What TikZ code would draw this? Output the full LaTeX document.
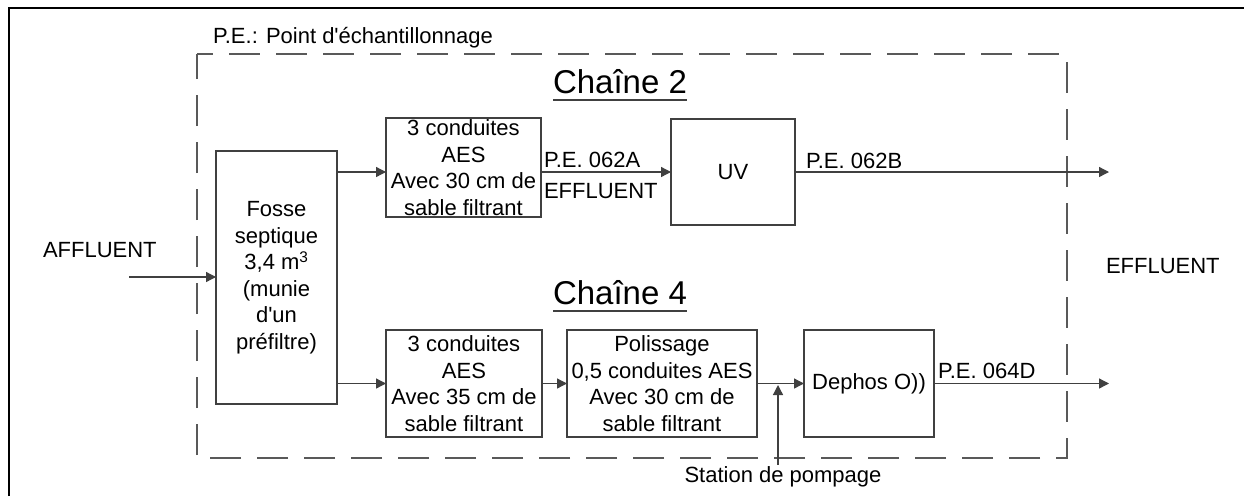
\documentclass[tikz,border=0pt]{standalone}
\usepackage{fontspec}
\setmainfont{Liberation Sans}
\usetikzlibrary{arrows.meta}
\begin{document}
\begin{tikzpicture}[x=1pt,y=-1pt,
  txt/.style={font=\fontsize{22}{26.5}\selectfont, inner sep=0pt, outer sep=0pt},
  box/.style={txt, draw=black!75, line width=1.3pt, align=center},
  title/.style={font=\fontsize{33}{36}\selectfont, inner sep=0pt, outer sep=0pt},
  arr/.style={draw=black!75, line width=1.3pt, -{Triangle[length=10pt,width=10pt]}},
  ln/.style={draw=black!75, line width=1.3pt}]
\useasboundingbox (0,0) rectangle (1244,496);
\fill[white] (0,0) rectangle (1244,496);
% outer frame
\draw[black, line width=1.5pt] (9,496) -- (9,8) -- (1244,8);
% dashed zone
\draw[black!65, line width=1.5pt, dash pattern=on 31pt off 16pt, dash phase=15pt]
  (197,54) -- (1067,54) -- (1067,458) -- (197,458) -- cycle;
% texts
\node[txt, anchor=base west] (pe) at (213,43) {P.E.: Point d\textquotesingle échantillonnage};
\node[title, anchor=base west] (ch2) at (553,93) {Chaîne 2};
\draw[black!75, line width=1.5pt] ([yshift=-7pt]ch2.base west) -- ([yshift=-7pt]ch2.base east);
\node[title, anchor=base west] (ch4) at (553,304) {Chaîne 4};
\draw[black!75, line width=1.5pt] ([yshift=-7pt]ch4.base west) -- ([yshift=-7pt]ch4.base east);
\node[txt, anchor=base west] (aff) at (43,257) {AFFLUENT};
\node[txt, anchor=base west] (eff) at (1106,273) {EFFLUENT};
% boxes
\node[box, minimum width=121pt, minimum height=253pt] (fosse) at (276.5,277.5)
  {Fosse\\septique\\3,4 m\textsuperscript{3}\\(munie\\d\textquotesingle un\\préfiltre)};
\node[box, minimum width=155pt, minimum height=99pt] (c2) at (463.5,167.5)
  {3 conduites\\AES\\Avec 30 cm de\\sable filtrant};
\node[box, minimum width=124pt, minimum height=106pt] (uv) at (733,172) {UV};
\node[box, minimum width=156pt, minimum height=107pt] (c4) at (464,383.5)
  {3 conduites\\AES\\Avec 35 cm de\\sable filtrant};
\node[box, minimum width=190pt, minimum height=107pt] (pol) at (662,383.5)
  {Polissage\\0,5 conduites AES\\Avec 30 cm de\\sable filtrant};
\node[box, minimum width=130pt, minimum height=107pt] (dep) at (869,383.5) {Dephos O))};
\node[txt] (sta) at (783,477) {Station de pompage};
% coordinates
\coordinate (ain) at (129,277);
\coordinate (r2) at (0,172);
\coordinate (out2) at (1109,172);
\coordinate (out4) at (1109,383.5);
\coordinate (j) at (778,385);
% connectors
\draw[arr] (ain) -- (ain -| fosse.west);
\draw[arr] (fosse.east |- r2) -- (c2.west |- r2);
\draw[arr] (c2.east |- r2) -- (uv.west |- r2);
\draw[arr] (uv.east |- r2) -- (out2);
\draw[arr] (fosse.east |- c4.west) -- (c4.west);
\draw[arr] (c4.east) -- (pol.west);
\draw[arr] (pol.east) -- (dep.west);
\draw[arr] (dep.east) -- (out4);
\draw[arr] (sta.north -| j) ++(0,-2) -- (j);
% connector labels
\node[txt, anchor=base west] (l62a) at (544,167) {P.E. 062A};
\node[txt, anchor=base west] (leff) at (544,198) {EFFLUENT};
\node[txt, anchor=base west] (l62b) at (806,168) {P.E. 062B};
\node[txt, anchor=base west] (l64d) at (938,378) {P.E. 064D};
\end{tikzpicture}
\end{document}
